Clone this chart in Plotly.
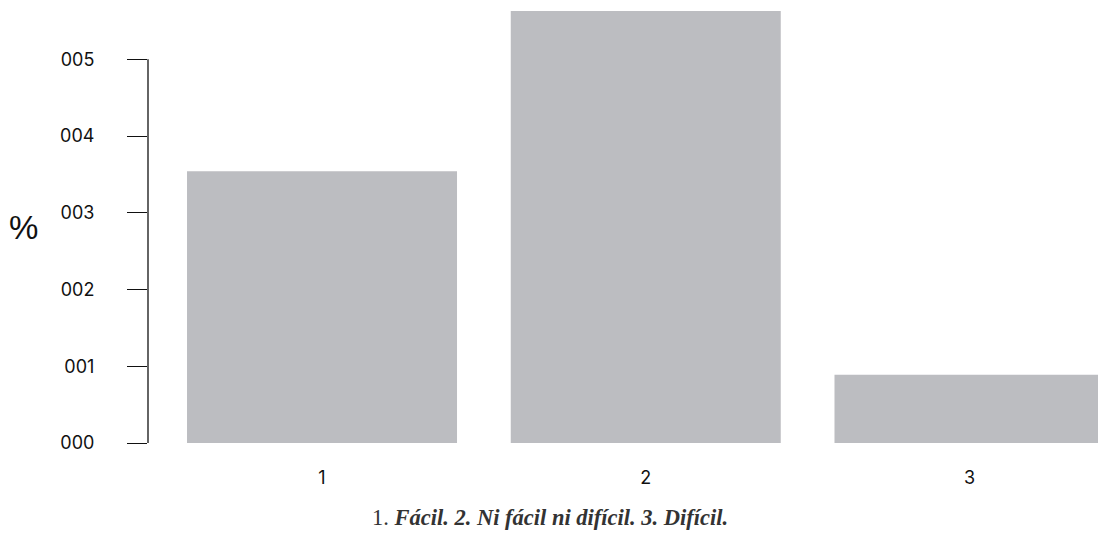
import plotly.graph_objects as go

categories = [1, 2, 3]
values = [3.54, 5.63, 0.89]
y_tickvals = [0, 1, 2, 3, 4, 5]
y_ticktext = ["000", "001", "002", "003", "004", "005"]
x_ticktext = ["1", "2", "3"]

BAR_COLOR = "#BCBDC1"

fig = go.Figure()
fig.add_trace(go.Bar(x=categories, y=values, marker=dict(color=BAR_COLOR, line=dict(width=0)),
                     width=0.834, hoverinfo="skip"))

W, H = 1098, 554
left = 148
bottom_px = 443.3
px_per_unit = 76.8
spacing = 323.7

r0 = 1 - (322 - left) / spacing
r1 = 3 + (W - 969.5) / spacing
ytop = bottom_px / px_per_unit

fig.update_layout(
    width=W, height=H,
    margin=dict(l=left, r=0, t=0, b=H - bottom_px),
    plot_bgcolor="white", paper_bgcolor="white",
    showlegend=False,
    font=dict(family="Inter, Liberation Sans, Arial, sans-serif", color="#111111"),
    xaxis=dict(range=[r0, r1], tickvals=categories, ticktext=x_ticktext,
               showgrid=False, zeroline=False, showline=False,
               ticks="outside", ticklen=18, tickcolor="rgba(0,0,0,0)",
               tickfont=dict(size=18)),
    yaxis=dict(range=[0, ytop], tickvals=y_tickvals, ticktext=y_ticktext,
               showgrid=False, zeroline=False, showline=False,
               ticks="outside", ticklen=20, tickwidth=1.3, tickcolor="#111111",
               ticklabelstandoff=29,
               tickfont=dict(size=18)),
)

# axis line spanning only the tick range
fig.add_shape(type="line", xref="paper", yref="y", x0=0, x1=0,
              y0=y_tickvals[0], y1=y_tickvals[-1],
              line=dict(color="#111111", width=1.3))

fig.add_annotation(text="%", xref="paper", yref="paper", x=(23 - left) / (W - left),
                   y=(bottom_px - 228) / bottom_px, showarrow=False,
                   font=dict(family="Liberation Sans, Arial, sans-serif", size=33, color="#111111"),
                   xanchor="center", yanchor="middle")

fig.add_annotation(
    text="1. <b><i>Fácil. 2. Ni fácil ni difícil. 3. Difícil.</i></b>",
    xref="paper", yref="paper",
    x=(550 - left) / (W - left), y=(bottom_px - 518) / bottom_px,
    showarrow=False, xanchor="center", yanchor="middle",
    font=dict(family="Liberation Serif, serif", size=22.5, color="#333333"))

fig.write_html("out.html", config={"displayModeBar": False},
               post_script="document.body.style.margin='0';document.body.style.overflow='hidden';")
